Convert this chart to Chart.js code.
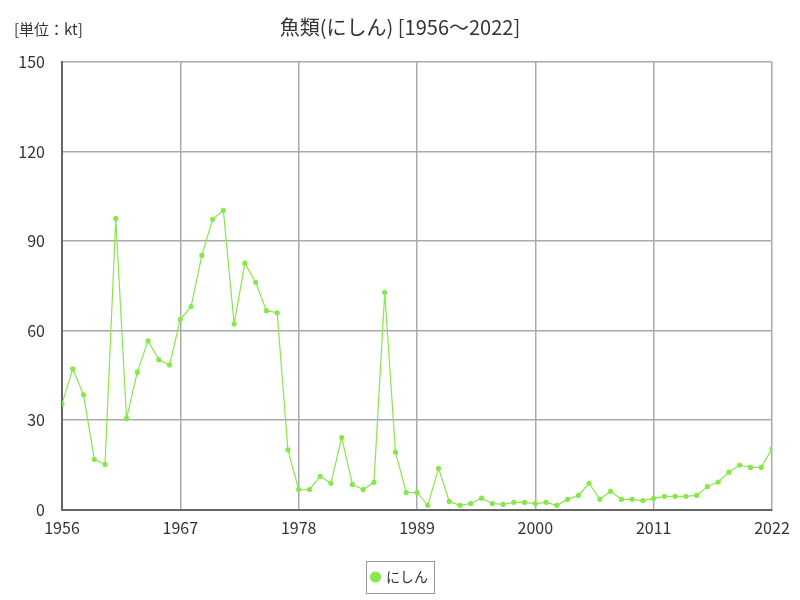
<!DOCTYPE html>
<html>
<head>
<meta charset="utf-8">
<script src="https://cdn.jsdelivr.net/npm/chart.js@4"></script>
<style>
  body { margin: 0; background: #fff; }
</style>
</head>
<body>
<canvas id="fishChart" width="800" height="600"></canvas>
<script>
// Data
const years = [];
for (let y = 1956; y <= 2022; y++) years.push(y);
const herring = [
	35.5, 47.2, 38.5, 16.9, 15.2, 97.6, 30.6, 46.1, 56.6, 50.3,
	48.5, 63.8, 68.1, 85.2, 97.3, 100.3, 62.3, 82.6, 76.2, 66.7,
	66.0, 20.1, 6.8, 6.8, 11.2, 8.9, 24.2, 8.5, 6.8, 9.2,
	72.8, 19.3, 5.8, 5.8, 1.5, 13.9, 2.8, 1.5, 2.1, 3.9,
	2.1, 1.8, 2.5, 2.5, 2.1, 2.5, 1.5, 3.5, 4.8, 8.9,
	3.5, 6.2, 3.5, 3.5, 3.1, 3.8, 4.5, 4.5, 4.5, 4.8,
	7.8, 9.3, 12.6, 15.0, 14.2, 14.2, 20.4
];
const xTicks = [1956, 1967, 1978, 1989, 2000, 2011, 2022];
const yTicks = [0, 30, 60, 90, 120, 150];

const font = "'Noto Sans CJK JP', 'Noto Sans', sans-serif";

// Draw the unit label and a border round the legend items
const extras = {
	id: 'extras',
	afterDraw(chart) {
		const c = chart.ctx;
		c.save();
		c.font = '15px ' + font;
		c.fillStyle = '#333';
		c.textBaseline = 'middle';
		c.fillText('[単位：kt]', 14, 29);
		const hb = chart.legend.legendHitBoxes[0];
		if (hb) {
			c.strokeStyle = '#999';
			c.lineWidth = 1;
			const l = Math.round(hb.left - 6) + 0.5;
			const t = Math.round(hb.top - 9) + 0.5;
			c.strokeRect(l, t, Math.round(hb.width + 12), Math.round(hb.height + 18));
		}
		c.restore();
	}
};

const ctx = document.getElementById('fishChart').getContext('2d');
const chart = new Chart(ctx, {
	type: 'line',
	data: {
		datasets: [{
			label: 'にしん',
			data: years.map((y, i) => ({ x: y, y: herring[i] })),
			borderColor: '#86e84a',
			backgroundColor: '#86e84a',
			borderWidth: 1.2,
			pointRadius: 2,
			pointHoverRadius: 3,
			pointStyle: 'circle',
			tension: 0,
		}],
	},
	options: {
		responsive: false,
		animation: false,
		layout: { padding: { left: 17, right: 17, top: 6, bottom: 6 } },
		plugins: {
			title: {
				display: true,
				text: '魚類(にしん) [1956～2022]',
				font: { family: font, size: 20, weight: 'normal' },
				color: '#333',
				padding: { top: 9, bottom: 23 },
			},
			legend: {
				position: 'bottom',
				labels: {
					usePointStyle: true,
					boxWidth: 7,
					boxHeight: 7,
					padding: 18,
					color: '#333',
					font: { family: font, size: 14 },
				},
			},
			tooltip: { enabled: false },
		},
		scales: {
			x: {
				type: 'linear',
				min: 1956,
				max: 2022,
				afterBuildTicks: (axis) => { axis.ticks = xTicks.map(v => ({ value: v })); },
				afterFit: (axis) => { axis.height += 5; },
				ticks: {
					color: '#333',
					font: { family: font, size: 16 },
					callback: (v) => String(v),
					maxRotation: 0,
					padding: 9,
				},
				grid: { color: '#aaa', lineWidth: 1.5, drawTicks: false },
				border: { color: '#666', width: 2 },
			},
			y: {
				min: 0,
				max: 150,
				afterBuildTicks: (axis) => { axis.ticks = yTicks.map(v => ({ value: v })); },
				afterFit: (axis) => { axis.width = 45; },
				ticks: {
					color: '#333',
					font: { family: font, size: 16 },
					padding: 17,
				},
				grid: { color: '#aaa', lineWidth: 1.5, drawTicks: false },
				border: { color: '#666', width: 2 },
			},
			// empty spacer on the right so the legend stays centred on the page
			yRight: {
				position: 'right',
				min: 0,
				max: 150,
				afterFit: (axis) => { axis.width = 11; },
				ticks: { display: false },
				grid: { display: false },
				border: { display: false },
			},
		},
	},
	plugins: [extras],
});
</script>
</body>
</html>
